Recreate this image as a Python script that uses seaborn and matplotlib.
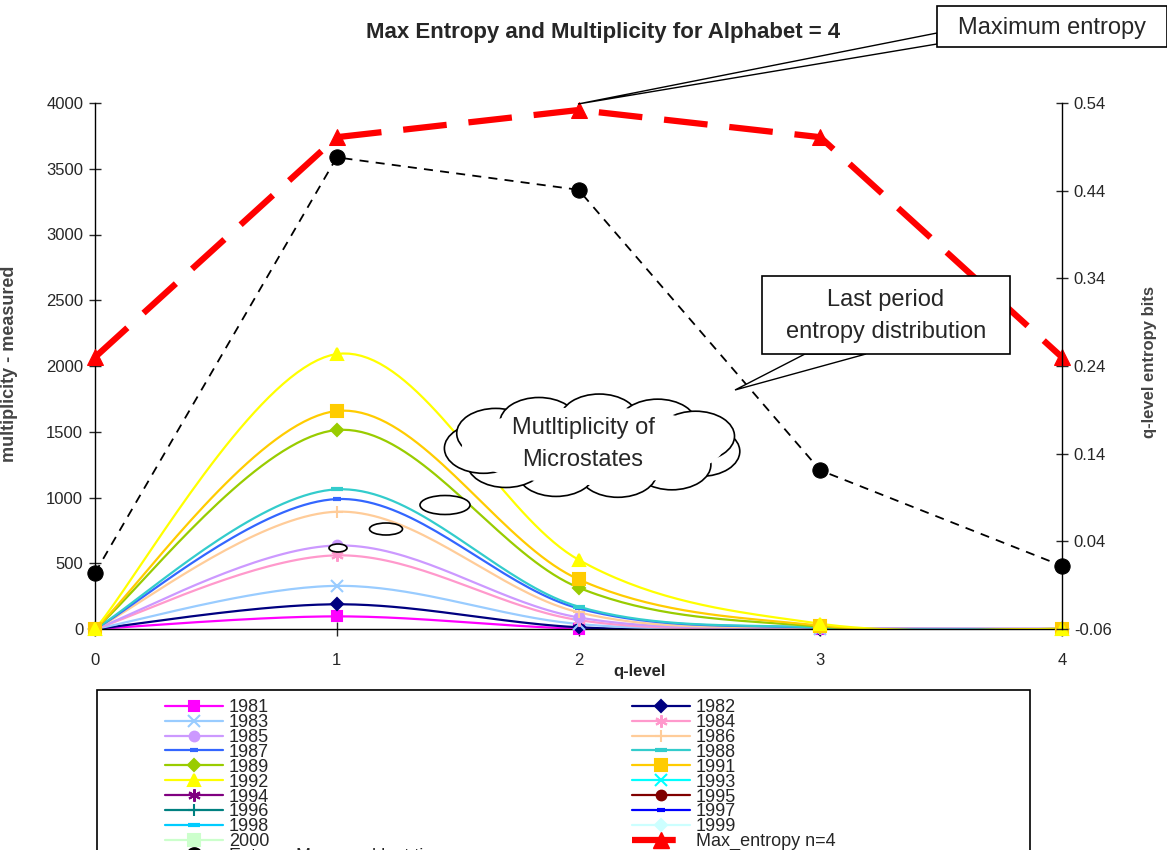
import numpy as np
import seaborn as sns
import matplotlib.pyplot as plt
from matplotlib.lines import Line2D
from matplotlib.patches import Ellipse, Polygon, Rectangle

# ---- data ----
q_levels = [0, 1, 2, 3, 4]

m1981 = [0, 96, 3, 1, 0]
m1982 = [0, 188, 13, 2, 0]
m1983 = [0, 328, 38, 3, 0]
m1984 = [0, 560, 68, 6, 0]
m1985 = [0, 635, 88, 6, 0]
m1986 = [0, 892, 127, 8, 0]
m1987 = [0, 988, 157, 9, 0]
m1988 = [0, 1062, 170, 11, 0]
m1989 = [0, 1513, 315, 18, 0]
m1991 = [0, 1658, 378, 26, 0]
m1992 = [0, 2091, 527, 40, 0]
# 1993-2000 are in the legend only, no points plotted
m_empty = [np.nan] * 5

max_entropy = [0.250, 0.501, 0.532, 0.501, 0.250]
entropy_last = [0.004, 0.478, 0.441, 0.121, 0.012]

years = ['1981', '1982', '1983', '1984', '1985', '1986', '1987', '1988', '1989',
         '1991', '1992', '1993', '1994', '1995', '1996', '1997', '1998', '1999', '2000']
series = [m1981, m1982, m1983, m1984, m1985, m1986, m1987, m1988, m1989,
          m1991, m1992, m_empty, m_empty, m_empty, m_empty, m_empty, m_empty, m_empty, m_empty]

# excel-ish colours / markers per year
colors = ['#FF00FF', '#000080', '#99CCFF', '#FF99CC', '#CC99FF', '#FFCC99', '#3366FF',
          '#33CCCC', '#99CC00', '#FFCC00', '#FFFF00', '#00FFFF', '#800080', '#800000',
          '#008080', '#0000FF', '#00CCFF', '#CCFFFF', '#CCFFCC']
markers = ['s', 'D', 'x', (6, 2, 0), 'o', '+', '_', '_', 'D', 's', '^', 'x', (6, 2, 0),
           'o', '+', '_', '_', 'D', 's']
msizes = [7, 6, 9, 9, 7, 9, 6, 8, 6, 8, 9, 9, 9, 7, 9, 6, 8, 6, 8]


def smooth(xs, ys, n=40):
    # excel "smoothed line": bezier segments with catmull-rom control points
    pts = np.column_stack([xs, ys]).astype(float)
    out = []
    for i in range(len(pts) - 1):
        p0 = pts[max(i - 1, 0)]
        p1 = pts[i]
        p2 = pts[i + 1]
        p3 = pts[min(i + 2, len(pts) - 1)]
        c1 = p1 + (p2 - p0) / 6
        c2 = p2 - (p3 - p1) / 6
        t = np.linspace(0, 1, n)[:, None]
        seg = (1 - t) ** 3 * p1 + 3 * (1 - t) ** 2 * t * c1 + 3 * (1 - t) * t ** 2 * c2 + t ** 3 * p2
        out.append(seg if i == 0 else seg[1:])
    return np.vstack(out)


sns.set_style('white')
plt.rcParams['font.family'] = ['Liberation Sans', 'DejaVu Sans']

W, H = 1167, 850
fig = plt.figure(figsize=(W / 100, H / 100), dpi=100)
x0, x1, y0, y1 = 95, 1062, 629, 103
ax = fig.add_axes([x0 / W, 1 - y0 / H, (x1 - x0) / W, (y0 - y1) / H])
ax2 = ax.twinx()

for vals, c, mk, ms in zip(series, colors, markers, msizes):
    if np.all(np.isnan(vals)):
        continue
    curve = smooth(q_levels, vals)
    sns.lineplot(x=curve[:, 0], y=curve[:, 1], ax=ax, color=c, lw=1.6, sort=False,
                 estimator=None)
    mew = 3 if mk == '_' else 1.5
    ax.plot(q_levels, vals, ls='none', marker=mk, color=c, ms=ms, mew=mew, clip_on=False,
            zorder=3)

sns.lineplot(x=q_levels, y=max_entropy, ax=ax2, color='#FF0000', lw=4.5,
             marker='^', ms=12, mec='#FF0000', dashes=False, clip_on=False)
ax2.lines[-1].set_dashes([7, 3.5])
sns.lineplot(x=q_levels, y=entropy_last, ax=ax2, color='black', lw=1.3,
             marker='o', ms=11, mec='black', clip_on=False)
ax2.lines[-1].set_dashes([5, 4])

ax.set_xlim(0, 4)
ax.set_ylim(0, 4000)
ax.set_yticks(np.arange(0, 4001, 500))
ax.set_xticks(q_levels)
ax2.set_ylim(-0.06, 0.54)
ax2.set_yticks(np.round(np.arange(-0.06, 0.55, 0.1), 2))
ax2.set_yticklabels(['%.2f' % v for v in np.arange(-0.06, 0.55, 0.1)])

for a in (ax, ax2):
    a.spines['top'].set_visible(False)
    for s in a.spines.values():
        s.set_color('black')
        s.set_linewidth(1)
ax2.spines['left'].set_visible(False)
ax2.spines['bottom'].set_visible(False)
ax.spines['right'].set_visible(False)

ax.tick_params(axis='y', direction='inout', length=9, width=1, labelsize=12, left=True, pad=4)
ax.tick_params(axis='x', direction='inout', length=10, width=1, labelsize=12, bottom=True, pad=12)
ax2.tick_params(axis='y', direction='inout', length=9, width=1, labelsize=12, right=True, pad=4)

ax.set_xlabel('q-level', fontsize=12, fontweight='bold')
ax.xaxis.set_label_coords((640 - x0) / (x1 - x0), -0.066)
ax.set_ylabel('multiplicity - measured', fontsize=13, fontweight='bold', color='#444444')
ax.yaxis.set_label_coords((18 - x0) / (x1 - x0), (y0 - 364) / (y0 - y1))
ax2.set_ylabel('q-level entropy bits', fontsize=12, fontweight='bold', color='#444444',
               rotation=90)
ax2.yaxis.set_label_coords((1142 - x0) / (x1 - x0), (y0 - 362) / (y0 - y1))

# ---- overlay in pixel coordinates for title, callouts and legend ----
ov = fig.add_axes([0, 0, 1, 1], zorder=10)
ov.set_xlim(0, W)
ov.set_ylim(H, 0)
ov.axis('off')
ov.patch.set_alpha(0)

ov.text(603, 32, 'Max Entropy and Multiplicity for Alphabet = 4', ha='center', va='center',
        fontsize=16, fontweight='bold')

# "Maximum entropy" callout
ov.add_patch(Polygon([(937, 33), (578, 104), (937, 44)], closed=True, fc='white',
                     ec='black', lw=1))
ov.add_patch(Rectangle((937, 6), 230, 41, fc='white', ec='black', lw=1.2))
ov.text(1052, 28, 'Maximum entropy', ha='center', va='center', fontsize=17)

# "Last period" callout
ov.add_patch(Polygon([(805, 354), (735, 390), (866, 354)], closed=True, fc='white',
                     ec='black', lw=1))
ov.add_patch(Rectangle((762, 276), 248, 78, fc='white', ec='black', lw=1.2))
ov.text(886, 300, 'Last period', ha='center', va='center', fontsize=17)
ov.text(886, 332, 'entropy distribution', ha='center', va='center', fontsize=17)

# cloud callout
cx, cy = 593, 446
ang = np.linspace(0, 2 * np.pi, 11, endpoint=False) + 0.2
for a in ang:
    ov.add_patch(Ellipse((cx + 110 * np.cos(a), cy + 27 * np.sin(a)), 78, 50,
                         fc='white', ec='black', lw=1.2))
ov.add_patch(Ellipse((cx, cy), 262, 78, fc='white', ec='none'))
for (ex, ey, ew, eh) in [(445, 505, 50, 19), (386, 529, 33, 12), (338, 548, 18, 8)]:
    ov.add_patch(Ellipse((ex, ey), ew, eh, fc='white', ec='black', lw=1.2))
ov.text(583, 428, 'Mutltiplicity of', ha='center', va='center', fontsize=17)
ov.text(583, 460, 'Microstates', ha='center', va='center', fontsize=17)

# legend (box runs off the bottom like the original)
ov.add_patch(Rectangle((97, 690), 933, 200, fc='white', ec='black', lw=1.2, clip_on=False))
handles = {}
for y, c, mk, ms in zip(years, colors, markers, msizes):
    mew = 3 if mk == '_' else 1.5
    handles[y] = Line2D([], [], color=c, lw=1.6, marker=mk, ms=ms, mew=mew)
h_max = Line2D([], [], color='#FF0000', lw=4.5, marker='^', ms=12, dashes=[7, 3.5])
h_last = Line2D([], [], color='black', lw=1.3, marker='o', ms=11, dashes=[5, 4])

col1 = ['1981', '1983', '1985', '1987', '1989', '1992', '1994', '1996', '1998', '2000']
col2 = ['1982', '1984', '1986', '1988', '1991', '1993', '1995', '1997', '1999']
leg_kw = dict(loc='upper left', frameon=False, fontsize=13, handlelength=3.2,
              handletextpad=0.35, labelspacing=-0.115, borderpad=0, borderaxespad=0,
              bbox_transform=ov.transData)
leg1 = ov.legend([handles[y] for y in col1] + [h_last],
                 col1 + ['Entropy Measured last time'],
                 bbox_to_anchor=(165, 699), **leg_kw)
ov.add_artist(leg1)
ov.legend([handles[y] for y in col2] + [h_max], col2 + ['Max_entropy n=4'],
          bbox_to_anchor=(632, 699), **leg_kw)

fig.savefig('out.png', dpi=100)
